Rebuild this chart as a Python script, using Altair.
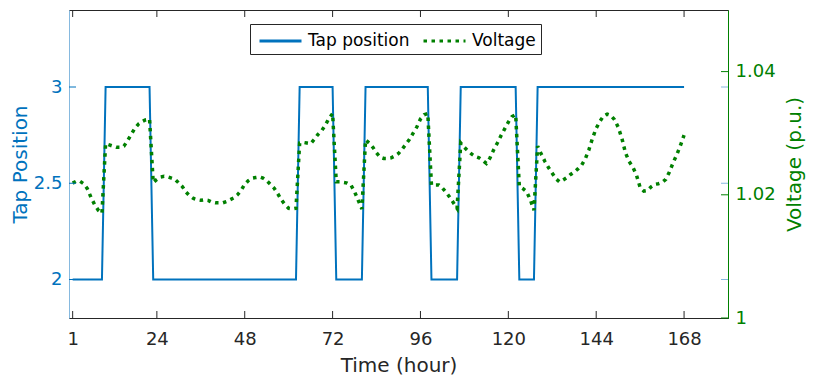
import altair as alt
import pandas as pd

# ---------------- data ----------------
hours = list(range(1, 169))

tap_position = ([2] * 9 + [3] * 13 + [2] * 40 + [3] * 10 + [2] * 8 +
                [3] * 18 + [2] * 8 + [3] * 16 + [2] * 5 + [3] * 41)

voltage = [
    # 1-9
    1.0219, 1.0222, 1.0222, 1.0218, 1.0210, 1.0196, 1.0184, 1.0175, 1.0170,
    # 10-22
    1.0283, 1.0281, 1.0279, 1.0277, 1.0277, 1.0279, 1.0288, 1.0298, 1.0308,
    1.0315, 1.0319, 1.0322, 1.0323,
    # 23-62
    1.0220, 1.0225, 1.0229, 1.0230, 1.0229, 1.0227, 1.0225, 1.0219, 1.0213,
    1.0204, 1.0198, 1.0194, 1.0192, 1.0191, 1.0192, 1.0191, 1.0188, 1.0187,
    1.0187, 1.0187, 1.0189, 1.0192, 1.0195, 1.0200, 1.0207, 1.0217, 1.0223,
    1.0227, 1.0228, 1.0229, 1.0227, 1.0223, 1.0217, 1.0211, 1.0202, 1.0192,
    1.0184, 1.0178, 1.0177, 1.0178,
    # 63-72
    1.0284, 1.0285, 1.0284, 1.0283, 1.0290, 1.0298, 1.0304, 1.0313, 1.0324,
    1.0332,
    # 73-80
    1.0221, 1.0221, 1.0220, 1.0219, 1.0216, 1.0205, 1.0191, 1.0177,
    # 81-98
    1.0289, 1.0284, 1.0277, 1.0268, 1.0261, 1.0259, 1.0259, 1.0260, 1.0263,
    1.0267, 1.0274, 1.0282, 1.0290, 1.0300, 1.0310, 1.0323, 1.0330, 1.0332,
    # 99-106
    1.0216, 1.0216, 1.0216, 1.0211, 1.0204, 1.0196, 1.0187, 1.0178,
    # 107-122
    1.0284, 1.0277, 1.0271, 1.0266, 1.0262, 1.0260, 1.0256, 1.0251, 1.0260,
    1.0273, 1.0284, 1.0296, 1.0307, 1.0318, 1.0327, 1.0330,
    # 123-127
    1.0214, 1.0210, 1.0205, 1.0192, 1.0175,
    # 128-168
    1.0279, 1.0266, 1.0254, 1.0244, 1.0235, 1.0226, 1.0221, 1.0224, 1.0228,
    1.0233, 1.0237, 1.0242, 1.0248, 1.0258, 1.0273, 1.0292, 1.0308, 1.0319,
    1.0328, 1.0331, 1.0329, 1.0322, 1.0310, 1.0292, 1.0268, 1.0254, 1.0245,
    1.0232, 1.0212, 1.0206, 1.0207, 1.0213, 1.0217, 1.0218, 1.0220, 1.0225,
    1.0237, 1.0252, 1.0265, 1.0280, 1.0297,
]

x_ticks = [1, 24, 48, 72, 96, 120, 144, 168]
tap_ticks = [2, 2.5, 3]
volt_ticks = [1.0, 1.02, 1.04]
series_names = ["Tap position", "Voltage"]

assert len(tap_position) == len(hours) == len(voltage)

# ---------------- styling ----------------
W, H = 659, 308
BLUE = "#0072BD"
LIGHTBLUE = "#86b9df"
GREEN = "#008000"
DARK = "#262626"
FONT = "DejaVu Sans"
TICK = 7

tap_df = pd.DataFrame({"hour": hours, "value": tap_position, "series": series_names[0]})
volt_df = pd.DataFrame({"hour": hours, "value": voltage, "series": series_names[1]})
xt_df = pd.DataFrame({"hour": x_ticks})
tt_df = pd.DataFrame({"t": tap_ticks})
vt_df = pd.DataFrame({"t": volt_ticks})

x_scale = alt.Scale(domain=[0, 180], nice=False, zero=False)
tap_scale = alt.Scale(domain=[1.8, 3.4], nice=False, zero=False)
volt_scale = alt.Scale(domain=[1.0, 1.05], nice=False, zero=False)

color = alt.Color("series:N",
                  scale=alt.Scale(domain=series_names, range=[BLUE, GREEN]),
                  legend=alt.Legend(title=None))
dash = alt.StrokeDash("series:N",
                      scale=alt.Scale(domain=series_names, range=[[1, 0], [3.5, 4.5]]),
                      legend=alt.Legend(title=None))

x_axis = alt.Axis(values=x_ticks, title="Time (hour)", ticks=False, grid=False,
                  domainColor=DARK, labelColor=DARK, labelPadding=12,
                  labelFontSize=18, titleFontSize=20, titleColor=DARK,
                  titleFontWeight="normal", titleX=W / 2, titleY=47,
                  titleBaseline="middle", labelFlush=False)
X = alt.X("hour:Q", scale=x_scale, axis=x_axis)

tap_axis = alt.Axis(orient="left", values=tap_ticks, format="~g", title="Tap Position",
                    ticks=False, grid=False, domainColor=LIGHTBLUE, labelColor=BLUE,
                    labelFontSize=18, labelPadding=7, titleColor=BLUE, titleFontSize=20,
                    titleFontWeight="normal", titleX=-49, titleY=H / 2, titleAngle=270,
                    titleAlign="center", titleBaseline="middle")

volt_axis = alt.Axis(orient="right", values=volt_ticks, format="~g", title="Voltage (p.u.)",
                     ticks=False, grid=False, domainColor=GREEN, labelColor=GREEN,
                     labelFontSize=18, labelPadding=7, titleColor=GREEN, titleFontSize=20,
                     titleFontWeight="normal", titleX=66, titleY=H / 2, titleAngle=270,
                     titleAlign="center", titleBaseline="middle")

tap_line = alt.Chart(tap_df).mark_line(strokeWidth=2).encode(
    x=X,
    y=alt.Y("value:Q", scale=tap_scale, axis=tap_axis),
    color=color, strokeDash=dash,
)

volt_line = alt.Chart(volt_df).mark_line(strokeWidth=3.5).encode(
    x=X,
    y=alt.Y("value:Q", scale=volt_scale, axis=volt_axis),
    color=color, strokeDash=dash,
)

# inward tick marks (MATLAB style)
xt_bottom = alt.Chart(xt_df).mark_rule(color=DARK, strokeWidth=1).encode(
    x=X, y=alt.value(H), y2=alt.value(H - TICK))
xt_top = alt.Chart(xt_df).mark_rule(color=DARK, strokeWidth=1).encode(
    x=X, y=alt.value(0), y2=alt.value(TICK))
tap_tick_left = alt.Chart(tt_df).mark_rule(color=BLUE, strokeWidth=1).encode(
    y=alt.Y("t:Q", scale=tap_scale, axis=None), x=alt.value(0), x2=alt.value(TICK))
tap_tick_right = alt.Chart(tt_df).mark_rule(color=LIGHTBLUE, strokeWidth=1).encode(
    y=alt.Y("t:Q", scale=tap_scale, axis=None), x=alt.value(W), x2=alt.value(W - TICK))
volt_tick_right = alt.Chart(vt_df).mark_rule(color=GREEN, strokeWidth=1).encode(
    y=alt.Y("t:Q", scale=volt_scale, axis=None), x=alt.value(W), x2=alt.value(W - TICK))

chart = alt.layer(
    tap_line, volt_line, xt_bottom, xt_top, tap_tick_left, tap_tick_right, volt_tick_right
).resolve_scale(
    y="independent"
).properties(
    width=W, height=H,
    autosize=alt.AutoSizeParams(type="none"),
    padding={"left": 61, "top": 2, "right": 78, "bottom": 59},
).configure(
    font=FONT,
).configure_view(
    stroke=DARK, strokeWidth=1,
).configure_legend(
    orient="none", legendX=181, legendY=14, direction="horizontal",
    strokeColor=DARK, fillColor="white", padding=5,
    symbolType="M-2,0L2,0", symbolSize=441, symbolStrokeWidth=3,
    symbolOffset=13.5,
    labelFontSize=17, labelColor="black", labelOffset=15.5, columnPadding=7,
    labelLimit=300,
)

chart.save("out.html", embed_options={"renderer": "svg", "actions": False})
